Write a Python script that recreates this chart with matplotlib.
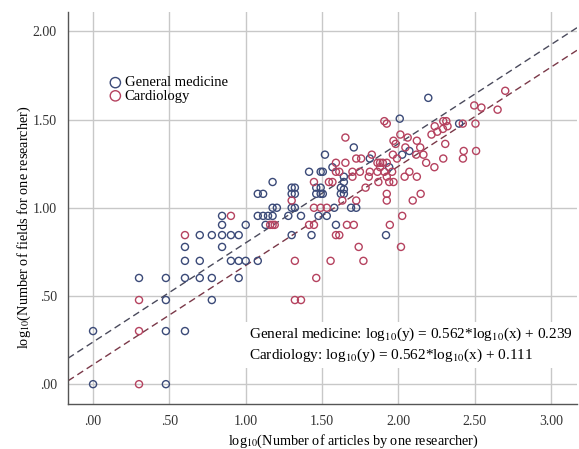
import matplotlib
matplotlib.use("Agg")
import matplotlib.pyplot as plt
import numpy as np

plt.rcParams['font.family'] = ['Liberation Serif', 'DejaVu Serif']
plt.rcParams['mathtext.fontset'] = 'stix'

# General medicine: (log10 articles, log10 fields)
gm_x = [0.000, 0.000, 0.477, 0.477, 0.602, 0.477, 0.778,
        0.301, 0.477, 0.602, 0.699, 0.778, 0.954,
        0.602, 0.699, 0.903, 0.954, 1.000, 1.079,
        0.602, 0.845,
        0.699, 0.778, 0.845, 0.903, 0.954,
        0.845, 1.000, 1.130,
        0.845, 1.079, 1.114, 1.146, 1.176, 1.279,
        1.176, 1.204, 1.301, 1.322,
        1.079, 1.114, 1.301, 1.322,
        1.176, 1.301, 1.322, 1.301,
        1.431, 1.919,
        1.362, 1.477, 1.531, 1.591,
        1.580, 1.690, 1.724,
        1.462, 1.491, 1.462, 1.491, 1.505,
        1.623, 1.643, 1.643, 1.643, 1.623, 1.643,
        1.415, 1.491, 1.505, 1.568, 1.519, 1.708, 1.813, 1.940,
        2.025, 2.072, 2.009, 2.196, 2.398]
gm_y = [0.000, 0.301, 0.000, 0.301, 0.301, 0.477, 0.477,
        0.602, 0.602, 0.602, 0.602, 0.602, 0.602,
        0.699, 0.699, 0.699, 0.699, 0.699, 0.699,
        0.778, 0.778,
        0.845, 0.845, 0.845, 0.845, 0.845,
        0.903, 0.903, 0.903,
        0.954, 0.954, 0.954, 0.954, 0.954, 0.954,
        1.000, 1.000, 1.000, 1.000,
        1.079, 1.079, 1.079, 1.079,
        1.146, 1.114, 1.114, 0.845,
        0.845, 0.845,
        0.954, 0.954, 0.954, 0.903,
        1.000, 1.000, 1.000,
        1.114, 1.114, 1.079, 1.079, 1.079,
        1.079, 1.079, 1.176, 1.146, 1.114, 1.104,
        1.204, 1.204, 1.204, 1.230, 1.301, 1.342, 1.279, 1.230,
        1.301, 1.322, 1.505, 1.623, 1.477]

# Cardiology
cd_x = [0.301, 0.301, 0.301, 0.602, 0.903,
        1.160, 1.190, 1.176, 1.301, 1.322, 1.322, 1.362,
        1.415, 1.447, 1.447, 1.491, 1.531,
        1.462, 1.556, 1.771,
        1.591, 1.613, 1.740, 2.017,
        1.663, 1.708, 1.944, 2.025,
        1.633, 1.724, 1.924, 2.094, 1.924, 2.146, 1.785,
        1.447, 1.545, 1.568, 1.869, 1.940, 1.968,
        1.699, 1.806, 1.924, 2.041, 2.121,
        1.591, 1.613, 1.699, 1.748, 1.813, 1.863, 1.908, 1.959, 2.072,
        1.591, 1.653, 1.863, 1.880, 1.898, 1.924, 1.880,
        1.724, 1.756, 1.826, 1.653,
        1.964, 1.991, 1.968, 1.982, 2.046, 2.013, 2.061,
        2.117, 2.121, 2.143, 2.164,
        2.182, 2.236, 2.294, 2.423,
        2.307, 2.428, 2.509,
        2.217, 2.255, 2.292, 2.238, 2.322,
        2.294, 2.314, 2.422, 2.505,
        1.908, 1.924,
        2.497, 2.544, 2.650, 2.700]
cd_y = [0.000, 0.301, 0.477, 0.845, 0.954,
        0.903, 0.903, 0.903, 1.041, 0.699, 0.477, 0.477,
        0.903, 0.903, 1.000, 1.000, 1.000,
        0.602, 0.699, 0.699,
        0.845, 0.845, 0.778, 0.778,
        0.903, 0.903, 0.903, 0.954,
        1.041, 1.041, 1.041, 1.041, 1.079, 1.079, 1.114,
        1.146, 1.146, 1.146, 1.146, 1.146, 1.146,
        1.176, 1.176, 1.176, 1.176, 1.176,
        1.204, 1.204, 1.204, 1.204, 1.204, 1.204, 1.204, 1.204, 1.204,
        1.255, 1.255, 1.255, 1.255, 1.255, 1.255, 1.230,
        1.279, 1.279, 1.301, 1.398,
        1.301, 1.279, 1.380, 1.362, 1.342, 1.415, 1.398,
        1.301, 1.380, 1.342, 1.301,
        1.255, 1.230, 1.279, 1.279,
        1.362, 1.322, 1.322,
        1.415, 1.431, 1.447, 1.462, 1.462,
        1.491, 1.491, 1.477, 1.477,
        1.491, 1.477,
        1.580, 1.568, 1.556, 1.663]

slope = 0.562
intercepts = {"General medicine": 0.239, "Cardiology": 0.111}

blue = '#3b4a78'
red = '#b5425f'

fig = plt.figure(figsize=(5.79, 4.49), dpi=100)
ax = fig.add_axes([0.1175, 0.100, 0.879, 0.873])

xlim = (-0.164, 3.17)
ylim = (-0.113, 2.109)
ax.set_xlim(*xlim)
ax.set_ylim(*ylim)

ax.set_xticks([0, 0.5, 1.0, 1.5, 2.0, 2.5, 3.0])
ax.set_xticklabels(['.00', '.50', '1.00', '1.50', '2.00', '2.50', '3.00'])
ax.set_yticks([0, 0.5, 1.0, 1.5, 2.0])
ax.set_yticklabels(['.00', '.50', '1.00', '1.50', '2.00'])
ax.tick_params(length=0, labelsize=10, colors='#333333', pad=8)
ax.grid(True, color='#c8c8c8', linewidth=1.0, zorder=0)
ax.set_axisbelow(True)
for s in ['top', 'right']:
    ax.spines[s].set_visible(False)
for s in ['left', 'bottom']:
    ax.spines[s].set_color('#555555')
    ax.spines[s].set_linewidth(1.0)

xs = np.array(xlim)
ax.plot(xs, slope * xs + intercepts["General medicine"], ls=(0, (5, 3)),
        color='#4a4a5c', lw=1.0, zorder=2)
ax.plot(xs, slope * xs + intercepts["Cardiology"], ls=(0, (5, 3)),
        color='#7a3848', lw=1.0, zorder=2)

ax.scatter(gm_x, gm_y, s=26, facecolors='none', edgecolors=blue,
           linewidths=1.0, zorder=3, label='General medicine')
ax.scatter(cd_x, cd_y, s=26, facecolors='none', edgecolors=red,
           linewidths=1.0, zorder=3, label='Cardiology')

leg = ax.legend(loc='upper left', bbox_to_anchor=(0.05, 0.855), frameon=False,
                fontsize=10.5, handletextpad=-0.35, labelspacing=0.0,
                borderpad=0.0, markerscale=1.45)

ax.text(1.02, 0.222, r'General medicine: log$_{10}$(y) = 0.562*log$_{10}$(x) + 0.239'
        '\n' r'Cardiology: log$_{10}$(y) = 0.562*log$_{10}$(x) + 0.111',
        transform=ax.transData, fontsize=11, va='center', ha='left',
        linespacing=1.25, zorder=4,
        bbox=dict(facecolor='white', edgecolor='none', pad=3))

ax.set_xlabel(r'log$_{10}$(Number of articles by one researcher)', fontsize=10.3)
ax.set_ylabel(r'log$_{10}$(Number of fields for one researcher)', fontsize=10.3)
ax.xaxis.set_label_coords(0.56, -0.096)
ax.yaxis.set_label_coords(-0.086, 0.452)
ax.xaxis.label.set_va('center')
ax.yaxis.label.set_va('center')

fig.savefig('out.png', dpi=100)
